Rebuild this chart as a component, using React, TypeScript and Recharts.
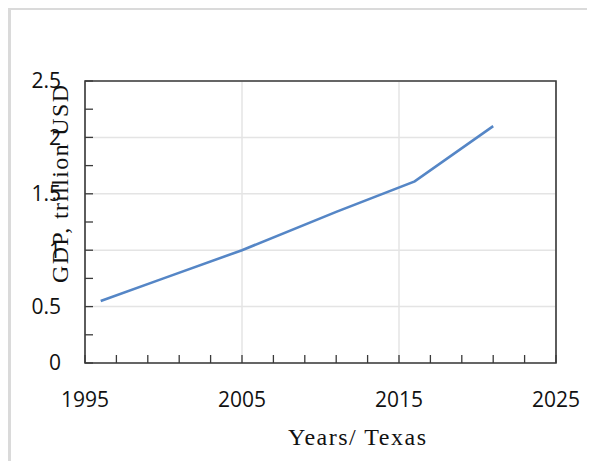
import React from "react"
import { LineChart, Line, XAxis, YAxis, CartesianGrid, ReferenceArea } from "recharts"

// Texas GDP, trillion USD
const YEARS = [1996, 2000, 2005, 2011, 2016, 2021]
const GDP = [0.55, 0.75, 1.0, 1.34, 1.61, 2.1]

const X_TICKS = [1995, 2005, 2015, 2025]
const X_MINOR_TICKS = [1995, 1997, 1999, 2001, 2003, 2005, 2007, 2009, 2011, 2013, 2015, 2017, 2019, 2021, 2023, 2025]
const Y_TICKS = [0, 0.5, 1, 1.5, 2, 2.5]
const Y_MINOR_TICKS = [0, 0.25, 0.5, 0.75, 1, 1.25, 1.5, 1.75, 2, 2.25, 2.5]

const X_TITLE = "Years/ Texas"
const Y_TITLE = "GDP, trillion USD"

const data = YEARS.map((year, i) => ({ year, gdp: GDP[i] }))

const FRAME = "#3a3a3a"
const tickFont = { fontSize: 21, fill: "#111", fontFamily: "Open Sans" }
const titleFont = { fontSize: 24, fill: "#111", fontFamily: "Liberation Serif" }

export default function App() {
  return (
    <div style={{ position: "relative", width: 587, height: 453 }}>
      <div
        style={{
          position: "absolute",
          left: 0,
          top: -1,
          width: 600,
          bottom: 0,
          borderLeft: "3px solid #dadada",
          borderTop: "3px solid #dadada",
        }}
      />
      <LineChart
        width={587}
        height={453}
        data={data}
        margin={{ top: 73, right: 39, left: 17, bottom: 58 }}
        style={{ position: "absolute", left: 0, top: 0 }}
      >
        <CartesianGrid stroke="#e4e4e4" strokeWidth={1.5} />
        <XAxis
          dataKey="year"
          type="number"
          domain={[1995, 2025]}
          ticks={X_TICKS}
          interval={0}
          height={40}
          axisLine={false}
          tickLine={false}
          tickSize={0}
          tickMargin={29}
          tick={tickFont}
          label={{
            content: () => (
              <text x={349} y={437} textAnchor="middle" textLength={138} lengthAdjust="spacing" {...titleFont}>
                {X_TITLE}
              </text>
            ),
          }}
        />
        <XAxis
          xAxisId="minor"
          dataKey="year"
          type="number"
          domain={[1995, 2025]}
          ticks={X_MINOR_TICKS}
          interval={0}
          mirror
          axisLine={false}
          tickSize={8}
          tickLine={{ stroke: FRAME, strokeWidth: 1.3 }}
          tick={{ fontSize: 1, fill: "none" }}
          tickFormatter={() => " "}
        />
        <YAxis
          type="number"
          domain={[0, 2.5]}
          ticks={Y_TICKS}
          interval={0}
          width={60}
          axisLine={false}
          tickLine={false}
          tickSize={0}
          tickMargin={24}
          tick={tickFont}
          label={{
            content: () => (
              <text
                transform="translate(60,176) rotate(-90)"
                textAnchor="middle"
                textLength={198}
                lengthAdjust="spacing"
                {...titleFont}
              >
                {Y_TITLE}
              </text>
            ),
          }}
        />
        <YAxis
          yAxisId="minor"
          type="number"
          domain={[0, 2.5]}
          ticks={Y_MINOR_TICKS}
          interval={0}
          mirror
          axisLine={false}
          tickSize={8}
          tickLine={{ stroke: FRAME, strokeWidth: 1.3 }}
          tick={{ fontSize: 1, fill: "none" }}
          tickFormatter={() => " "}
        />
        <ReferenceArea x1={1995} x2={2025} y1={0} y2={2.5} fill="none" stroke={FRAME} strokeWidth={1.6} />
        <Line
          xAxisId="minor"
          yAxisId="minor"
          type="linear"
          dataKey="gdp"
          stroke="none"
          dot={false}
          legendType="none"
          isAnimationActive={false}
        />
        <Line
          type="linear"
          dataKey="gdp"
          stroke="#5586c6"
          strokeWidth={2.6}
          dot={false}
          isAnimationActive={false}
        />
      </LineChart>
    </div>
  )
}
